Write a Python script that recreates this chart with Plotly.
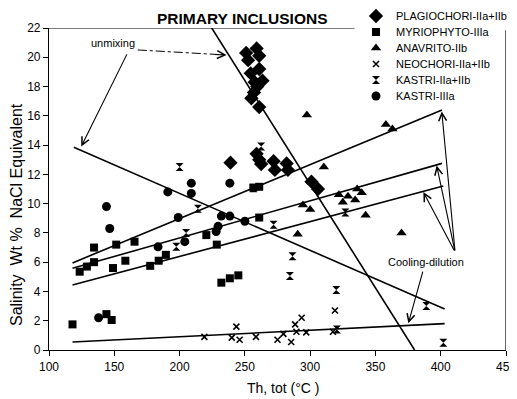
import plotly.graph_objects as go

# ---- data ----
plag_x = [251, 259, 261, 252.5, 254.5, 261, 257.5, 263.5, 259.5, 257, 255, 261,
          239, 259, 261, 262.5, 272, 273, 282, 283, 301, 306]
plag_y = [20.3, 20.6, 20.1, 19.8, 18.9, 19.2, 18.3, 18.4, 18.0, 17.6, 17.2, 16.6,
          12.8, 13.4, 13.0, 12.7, 12.9, 12.3, 12.75, 12.3, 11.5, 11.0]

myr_x = [118, 123.5, 129, 134.5, 134.5, 149, 151.5, 158.5, 165.5, 177.5, 184, 189.5,
         220.5, 228.5, 232, 238.5, 245, 144, 148, 256.5, 261, 261]
myr_y = [1.75, 5.35, 5.7, 6.0, 7.0, 5.6, 7.2, 6.1, 7.4, 5.75, 6.1, 6.5,
         7.85, 7.2, 4.6, 4.9, 5.1, 2.45, 2.05, 11.1, 11.15, 9.05]

anav_x = [290.5, 294.5, 300, 297.5, 310.5, 322, 325, 329, 334.5, 336, 339.5, 342.5, 358, 363, 370]
anav_y = [7.9, 9.9, 9.6, 16.05, 12.5, 10.6, 10.1, 10.5, 10.25, 11.0, 10.75, 9.2, 15.4, 15.1, 8.0]

neo_x = [219, 240, 243.5, 246, 258.5, 275, 279.5, 285.5, 288.5, 289.5, 293.5, 297, 317.5, 319]
neo_y = [0.9, 0.85, 1.6, 0.7, 0.9, 0.7, 1.1, 0.55, 1.75, 1.25, 2.2, 1.2, 1.25, 2.7]

kas2_x = [200, 197.5, 205, 214, 256.5, 262.5, 272, 286.5, 284.5, 320, 327, 389, 402, 320.5]
kas2_y = [12.5, 7.05, 8.0, 9.65, 11.05, 13.9, 8.55, 6.4, 5.05, 4.1, 9.4, 3.0, 0.5, 1.4]

kas3_x = [138, 144, 146.5, 183.5, 191, 199, 204, 209, 209, 228, 229.5, 232, 238.5, 238.5, 250]
kas3_y = [2.2, 9.8, 8.3, 7.05, 10.8, 9.05, 7.4, 11.4, 10.7, 8.1, 8.45, 9.15, 9.15, 11.4, 8.8]

# trend lines: [x0, x1], [y0, y1]
unmix_steep_x = [222.5, 380]
unmix_steep_y = [22.3, 0.0]
unmix_low_x = [119, 403]
unmix_low_y = [13.85, 2.8]
neo_line_x = [118, 403]
neo_line_y = [0.55, 1.8]
cool1_x = [118, 401]
cool1_y = [5.95, 16.4]
cool2_x = [118, 401]
cool2_y = [5.58, 12.75]
cool3_x = [118, 402]
cool3_y = [4.44, 11.2]

x_ticks = [100, 150, 200, 250, 300, 350, 400, 450]
y_ticks = [0, 2, 4, 6, 8, 10, 12, 14, 16, 18, 20, 22]

# page body has an ~8px margin; size the figure to fit the window
BODY = 8
W, H = 517 - BODY, 399 - BODY
ML, MT, PW, PH = 49 - BODY, 28 - BODY, 457, 322
MR, MB = W - ML - PW, H - MT - PH

def px_x(p):  # window pixel x -> paper x
    return (p - 49) / PW

def px_y(p):  # window pixel y -> paper y
    return 1 - (p - 28) / PH

fig = go.Figure()

for lx, ly in [(unmix_steep_x, unmix_steep_y), (unmix_low_x, unmix_low_y),
               (neo_line_x, neo_line_y), (cool1_x, cool1_y),
               (cool2_x, cool2_y), (cool3_x, cool3_y)]:
    fig.add_trace(go.Scatter(x=lx, y=ly, mode="lines", showlegend=False,
                             line=dict(color="black", width=1.6), hoverinfo="skip"))

series = [
    ("PLAGIOCHORI-IIa+IIb", plag_x, plag_y, "diamond", 11),
    ("MYRIOPHYTO-IIIa", myr_x, myr_y, "square", 8),
    ("ANAVRITO-IIb", anav_x, anav_y, "triangle-up", 9),
    ("NEOCHORI-IIa+IIb", neo_x, neo_y, "x-thin", 6),
    ("KASTRI-IIa+IIb", kas2_x, kas2_y, "hourglass", 8),
    ("KASTRI-IIIa", kas3_x, kas3_y, "circle", 9),
]
legend_layouts = {}
for i, (name, xs, ys, sym, sz) in enumerate(series):
    mk = dict(symbol=sym, size=sz, color="black")
    if sym == "x-thin":
        mk["line"] = dict(color="black", width=1.6)
    lg = "legend" if i == 0 else f"legend{i + 1}"
    fig.add_trace(go.Scatter(x=xs, y=ys, mode="markers", name=name, marker=mk,
                             cliponaxis=False, legend=lg))
    row_y = 16 + 16 * i  # window pixel row
    legend_layouts[lg] = dict(
        x=px_x(356), y=px_y(row_y), xanchor="left", yanchor="middle",
        font=dict(size=11, family="Arial, Liberation Sans, sans-serif", color="black"),
        bgcolor="rgba(255,255,255,0)", itemwidth=30, borderwidth=0,
    )

# frame pieces
fig.add_shape(type="line", x0=100, x1=334, y0=22, y1=22, xref="x", yref="y",
              line=dict(color="black", width=1.2))
fig.add_shape(type="line", x0=450, x1=450, y0=0, y1=21.85, xref="x", yref="y",
              line=dict(color="black", width=1.2))

ARROW = dict(showarrow=True, arrowhead=5, arrowsize=1.4, arrowwidth=1.1,
             arrowcolor="black", axref="x", ayref="y", xref="x", yref="y", text="")

# unmixing annotations
fig.add_annotation(x=148.7, y=20.97, text="unmixing", showarrow=False,
                   xanchor="center", yanchor="middle", font=dict(size=11, color="black"))
fig.add_annotation(x=124.7, y=13.9, ax=160.2, ay=20.3, **ARROW)
fig.add_shape(type="line", x0=168, y0=20.5, x1=233, y1=20.17, xref="x", yref="y",
              line=dict(color="black", width=1, dash="dashdot"))
fig.add_annotation(x=236, y=20.15, ax=226, ay=20.2, **ARROW)

# cooling-dilution annotations
fig.add_annotation(x=389, y=6.03, text="Cooling-dilution", showarrow=False,
                   xanchor="center", yanchor="middle", font=dict(size=11, color="black"))
fig.add_annotation(x=375.2, y=1.82, ax=386.6, ay=5.46, **ARROW)
for tx, ty in [(400.8, 16.3), (396.9, 12.6), (386.7, 10.8)]:
    fig.add_annotation(x=tx, y=ty, ax=411, ay=6.7, **ARROW)

# title
fig.add_annotation(x=px_x(242), y=px_y(18), xref="paper", yref="paper",
                   xanchor="center", yanchor="middle",
                   text="<b>PRIMARY INCLUSIONS</b>",
                   showarrow=False, font=dict(size=15.5, color="black"))

# axis titles as annotations
fig.add_annotation(text="Salinity  Wt %  NaCl Equivalent", textangle=-90,
                   x=px_x(16), xref="paper", y=px_y(215), yref="paper",
                   xanchor="center", yanchor="middle",
                   showarrow=False, font=dict(size=16, color="black"))
fig.add_annotation(text="Th, tot (°C )", x=px_x(283), xref="paper",
                   y=px_y(388), yref="paper", xanchor="center", yanchor="middle",
                   showarrow=False, font=dict(size=14, color="black"))

fig.update_layout(
    width=W, height=H,
    margin=dict(l=ML, r=MR, t=MT, b=MB, autoexpand=False),
    paper_bgcolor="white", plot_bgcolor="white",
    font=dict(family="Arial, Liberation Sans, sans-serif", color="black"),
    xaxis=dict(range=[100, 450], tickvals=x_ticks, showgrid=False, zeroline=False,
               showline=True, linecolor="black", linewidth=1.2, ticks="outside",
               ticklen=5, tickcolor="black", tickfont=dict(size=12)),
    yaxis=dict(range=[0, 22], tickvals=y_ticks, showgrid=False, zeroline=False,
               showline=True, linecolor="black", linewidth=1.2, ticks="outside",
               ticklen=5, tickcolor="black", tickfont=dict(size=12)),
    showlegend=True,
    **legend_layouts,
)

fig.write_html("out.html")
